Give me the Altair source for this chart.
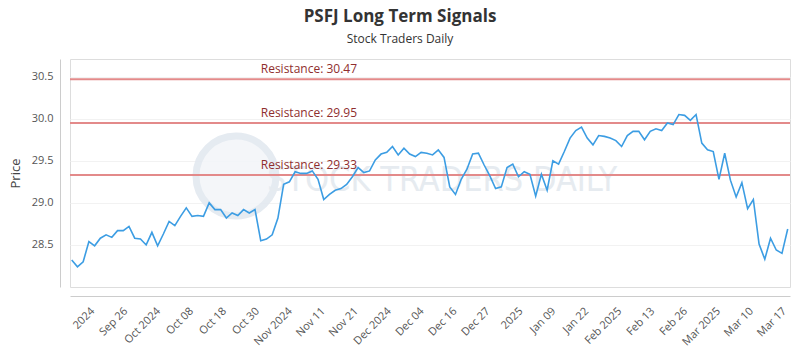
import altair as alt
import numpy as np
import pandas as pd

# ---- data ----
prices = [
    28.32, 28.24, 28.30, 28.54, 28.49, 28.58, 28.62, 28.59, 28.67, 28.67,
    28.72, 28.58, 28.57, 28.50, 28.65, 28.49, 28.63, 28.78, 28.73, 28.84,
    28.94, 28.84, 28.85, 28.84, 29.00, 28.92, 28.92, 28.82, 28.88, 28.85,
    28.92, 28.88, 28.92, 28.55, 28.57, 28.62, 28.82, 29.22, 29.25, 29.37,
    29.35, 29.35, 29.38, 29.28, 29.04, 29.10, 29.15, 29.17, 29.22, 29.31,
    29.42, 29.36, 29.38, 29.51, 29.58, 29.60, 29.67, 29.57, 29.65, 29.58,
    29.55, 29.60, 29.59, 29.57, 29.63, 29.54, 29.19, 29.10, 29.28, 29.40,
    29.58, 29.59, 29.45, 29.32, 29.17, 29.19, 29.42, 29.46, 29.31, 29.37,
    29.34, 29.08, 29.34, 29.15, 29.50, 29.46, 29.61, 29.77, 29.86, 29.90,
    29.77, 29.69, 29.80, 29.79, 29.77, 29.74, 29.67, 29.80, 29.85, 29.85,
    29.75, 29.85, 29.88, 29.86, 29.95, 29.93, 30.05, 30.04, 29.98, 30.05,
    29.71, 29.63, 29.61, 29.28, 29.59, 29.27, 29.07, 29.24, 28.93, 29.04,
    28.51, 28.33, 28.58, 28.44, 28.40, 28.69,
]
tick_labels = [
    "2024", "Sep 26", "Oct 2024", "Oct 08", "Oct 18", "Oct 30", "Nov 2024",
    "Nov 11", "Nov 21", "Dec 2024", "Dec 04", "Dec 16", "Dec 27", "2025",
    "Jan 09", "Jan 22", "Feb 2025", "Feb 13", "Feb 26", "Mar 2025",
    "Mar 10", "Mar 17",
]
resistance_values = [30.47, 29.95, 29.33]
resistance_labels = ["Resistance: 30.47", "Resistance: 29.95", "Resistance: 29.33"]

# ---- tables ----
df = pd.DataFrame({"idx": np.arange(len(prices)), "price": prices})
res = pd.DataFrame({"value": resistance_values, "label": resistance_labels})

first_tick, tick_step = 2.9, 5.75
tick_values = [round(first_tick + i * tick_step, 3) for i in range(len(tick_labels))]
label_array = "[" + ",".join("'" + t + "'" for t in tick_labels) + "]"
label_expr = f"{label_array}[round((datum.value - {first_tick}) / {tick_step})]"

x_scale = alt.Scale(domain=[-0.3, 125.4], nice=False, zero=False)
y_scale = alt.Scale(domain=[28.0, 30.71], nice=False, zero=False)

x_axis = alt.Axis(
    values=tick_values, labelExpr=label_expr, labelAngle=-45, labelAlign="right",
    labelBaseline="top", labelPadding=9, labelFontSize=11, labelColor="#555555",
    labelFont="Open Sans", ticks=False, grid=False, domainColor="#cccccc",
    offset=9, title=None, labelOverlap=False, labelBound=False, labelFlush=False,
)
y_axis = alt.Axis(
    values=[28.5, 29.0, 29.5, 30.0, 30.5], format=".1f", labelFontSize=11,
    labelColor="#555555", labelFont="Open Sans", labelPadding=7, ticks=False,
    grid=True, gridColor="#f2f2f2", domainColor="#cccccc", offset=10,
    title="Price", titleFontSize=13, titleFontWeight="normal", titleColor="#444444",
    titleFont="Open Sans", titlePadding=9,
)

one = pd.DataFrame({"k": [0]})

# faint watermark (pixel positions relative to the plot area)
logo = alt.Chart(one).mark_point(
    shape="circle", filled=True, fill="#f3f6f9", stroke="#e3e9f0", strokeWidth=7, opacity=0.9
).encode(x=alt.value(166), y=alt.value(117), size=alt.value(6400))

watermark = alt.Chart(one).mark_text(
    text="STOCK TRADERS DAILY", font="DejaVu Sans Condensed, Roboto", fontSize=34,
    color="#e6ebf0", align="center", baseline="middle",
).encode(x=alt.value(372), y=alt.value(122))

rules = alt.Chart(res).mark_rule(color="#e38a8a", strokeWidth=2).encode(
    y=alt.Y("value:Q", scale=y_scale, axis=y_axis)
)

rule_text = alt.Chart(res).mark_text(
    align="left", baseline="bottom", dy=-3, fontSize=12, color="#8f2e2e", font="Open Sans"
).encode(
    x=alt.datum(33, scale=x_scale, axis=x_axis),
    y=alt.Y("value:Q", scale=y_scale, axis=y_axis),
    text="label:N",
)

line = alt.Chart(df).mark_line(color="#3c9de3", strokeWidth=1.6).encode(
    x=alt.X("idx:Q", scale=x_scale, axis=x_axis),
    y=alt.Y("price:Q", scale=y_scale, axis=y_axis),
)

chart = (
    alt.layer(logo, watermark, rules, rule_text, line)
    .properties(
        width=720, height=228,
        autosize=alt.AutoSizeParams(type="none"),
        padding={"left": 70, "top": 59, "right": 10, "bottom": 63},
        title=alt.TitleParams(
            text="PSFJ Long Term Signals", subtitle="Stock Traders Daily",
            anchor="middle", dx=-30, fontSize=17, fontWeight="bold", color="#333333",
            font="Open Sans", subtitleFont="Open Sans", subtitleFontSize=12,
            subtitleColor="#333333", subtitlePadding=8, offset=13,
        ),
    )
    .configure_view(stroke="#777777", strokeWidth=1)
    .configure(background="white")
)

chart.save("out.html", embed_options={"renderer": "svg", "actions": False})
